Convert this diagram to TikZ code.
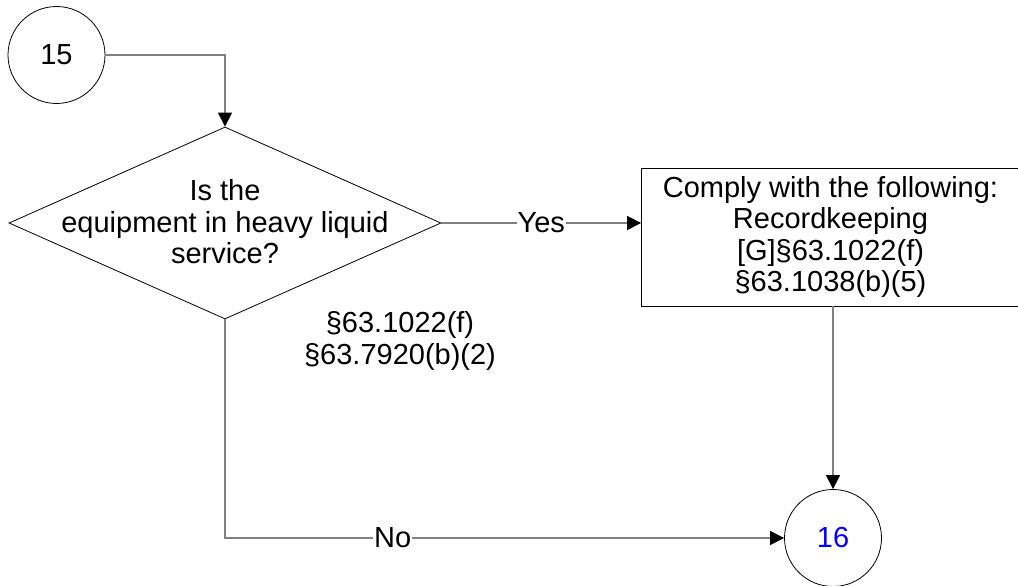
\documentclass[tikz,border=0pt]{standalone}
\usepackage{fontspec}
\setmainfont{Liberation Sans}
\usetikzlibrary{shapes.geometric,arrows.meta}
\definecolor{conn}{RGB}{128,128,128}
\definecolor{numblue}{RGB}{0,0,255}
\begin{document}
\begin{tikzpicture}[x=1pt,y=-1pt,
  every node/.style={font=\fontsize{29}{31.5}\selectfont, align=center},
  circ/.style={circle, draw=black, line width=0.8pt, minimum size=97pt, inner sep=0pt},
  dshape/.style={diamond, draw=black, line width=0.8pt, minimum width=432pt, minimum height=192pt, inner sep=0pt, aspect=2.25},
  boxn/.style={rectangle, draw=black, line width=0.8pt, minimum width=378pt, minimum height=138pt, inner sep=0pt},
  link/.style={draw=conn, line width=1.3pt, -{Triangle[length=14pt,width=14pt,color=black]}},
  lbl/.style={fill=white, inner sep=1pt}
]
\useasboundingbox (0,0) rectangle (1018,586);
\node[circ] (c15) at (56.5,55) {15};
\node[dshape] (d) at (225,223) {};
\node (dt) at (225,222) {Is the\\equipment in heavy liquid\\service?};
\node[boxn] (box) at (830.5,237) {Comply with the following:\\Recordkeeping\\{[G]}§63.1022(f)\\§63.1038(b)(5)};
\node[circ, text=numblue] (c16) at (833,538) {16};
\node (refs) at (400,341) {§63.1022(f)\\§63.7920(b)(2)};
\draw[link] (c15.east) -| (d.north);
\draw[link] (d.east) -- node[lbl]{Yes} (d.east -| box.west);
\draw[link] (c16.north |- box.south) -- (c16.north);
\draw[link] (d.south) |- node[lbl, pos=0.65]{No} (c16.west);
\end{tikzpicture}
\end{document}
